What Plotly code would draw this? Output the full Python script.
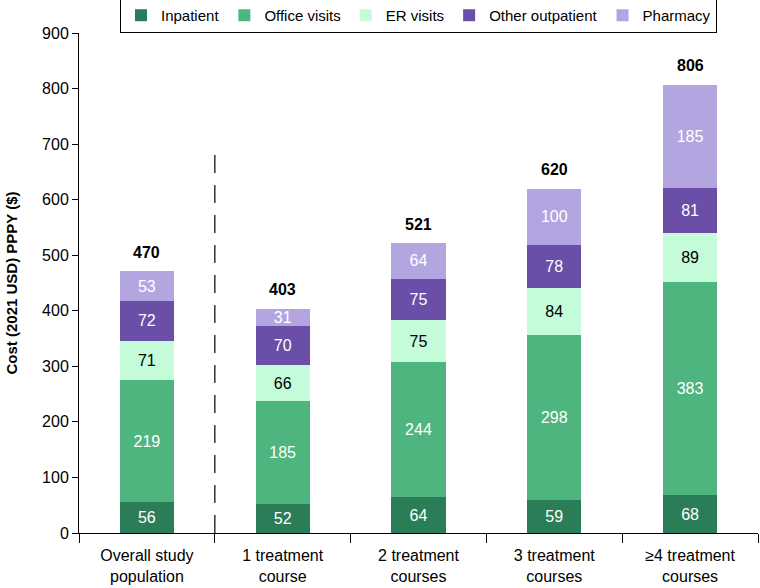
import plotly.graph_objects as go

categories = ["Overall study<br>population", "1 treatment<br>course", "2 treatment<br>courses",
              "3 treatment<br>courses", "≥4 treatment<br>courses"]
inpatient = [56, 52, 64, 59, 68]
office_visits = [219, 185, 244, 298, 383]
er_visits = [71, 66, 75, 84, 89]
other_outpatient = [72, 70, 75, 78, 81]
pharmacy = [53, 31, 64, 100, 185]
totals = [470, 403, 521, 620, 806]

series = [
    ("Inpatient", inpatient, "#2a7d57", "white"),
    ("Office visits", office_visits, "#4fb57e", "white"),
    ("ER visits", er_visits, "#c4fbd9", "black"),
    ("Other outpatient", other_outpatient, "#6a4ea8", "white"),
    ("Pharmacy", pharmacy, "#b3a5e0", "white"),
]

FONT = "Liberation Sans, Arial, Helvetica, sans-serif"

fig = go.Figure()
for name, vals, color, tcolor in series:
    fig.add_trace(go.Bar(
        name=name, x=categories, y=vals, marker=dict(color=color, line=dict(width=0)),
        text=[str(v) for v in vals], textposition="inside", insidetextanchor="middle",
        textangle=0,
        textfont=dict(color=tcolor, size=16, family=FONT), width=0.4,
        hoverinfo="x+y+name",
    ))

for c, t in zip(categories, totals):
    fig.add_annotation(x=c, y=t, text=f"<b>{t}</b>", showarrow=False, yanchor="bottom",
                       yshift=9, font=dict(size=16, color="black", family=FONT))

fig.add_shape(type="line", xref="x", yref="y", x0=0.5, x1=0.5, y0=0, y1=690,
              line=dict(color="#333333", width=1.5, dash="18px,12px"))

fig.update_layout(
    barmode="stack",
    width=760, height=588,
    margin=dict(l=79, r=2, t=33, b=55, autoexpand=False),
    paper_bgcolor="white", plot_bgcolor="white",
    font=dict(family=FONT, size=16, color="black"),
    uniformtext=dict(minsize=16, mode="show"),
    legend=dict(orientation="h", x=0.5, xanchor="center", y=1.0, yanchor="bottom",
                bordercolor="black", borderwidth=1, font=dict(size=15),
                itemwidth=30, traceorder="normal"),
    xaxis=dict(showline=True, linecolor="black", linewidth=1, ticks="outside",
               tickson="boundaries", ticklen=9, tickcolor="black",
               ticklabelstandoff=8,
               range=[-0.5, 4.5], tickfont=dict(size=16)),
    yaxis=dict(showline=True, linecolor="black", linewidth=1, ticks="outside",
               ticklen=6, tickcolor="black", range=[0, 900], dtick=100,
               showgrid=False, zeroline=False, tickfont=dict(size=16),
               title=dict(text="<b>Cost (2021 USD) PPPY ($)</b>", font=dict(size=15), standoff=20)),
)

fig.write_html("out.html", config={"displayModeBar": False},
               post_script="document.body.style.margin='0';")
